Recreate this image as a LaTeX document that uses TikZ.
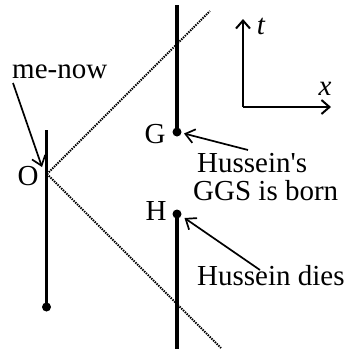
\documentclass[tikz,border=0pt]{standalone}
\usepackage{fontspec}
\setmainfont{Liberation Serif}
\usetikzlibrary{arrows.meta}
\begin{document}
\begin{tikzpicture}[x=1pt,y=-1pt,
  wline/.style={line width=3.6pt},
  lcone/.style={line width=2.1pt, dash pattern=on 1.4pt off 1.1pt},
  dotev/.style={circle, fill=black, inner sep=0pt, minimum size=9pt},
  lbl/.style={inner sep=0pt, font=\fontsize{29}{28}\selectfont},
  ann/.style={line width=1.7pt, -{Straight Barb[length=9pt,width=14pt,line width=1.7pt]}},
  axis/.style={line width=2pt, -{Straight Barb[length=8pt,width=14pt,line width=2pt]}}]
\useasboundingbox (0,0) rectangle (347,349);
% events
\coordinate (O) at (47,174);
\coordinate (meT) at (46.5,130);
\node[dotev] (meB) at (46.5,307) {};
\coordinate (gT) at (177,5);
\node[dotev] (G) at (177,132) {};
\node[dotev] (H) at (177,214) {};
\coordinate (hB) at (177,349);
\coordinate (cU) at (210,11);
\coordinate (cD) at (221,348);
% world lines
\draw[wline] (meT) -- (meB.center);
\draw[wline] (gT) -- (G.center);
\draw[wline] (H.center) -- (hB);
% light cone
\draw[lcone] (O) -- (cU);
\draw[lcone] (O) -- (cD);
% axes
\coordinate (ax0) at (243,107);
\coordinate (axt) at (243,19);
\coordinate (axx) at (331,107);
\draw[axis] (ax0) -- (axt);
\draw[axis] (ax0) -- (axx);
\node[lbl, anchor=base] (tl) at (261,34) {\itshape t};
\node[lbl, anchor=base] (xl) at (325,95) {\itshape x};
% labels
\node[lbl, anchor=base west] (menow) at (12,78) {me-now};
\node[lbl, anchor=base] (Ol) at (28,185) {O};
\node[lbl, anchor=base] (Gl) at (155,143) {G};
\node[lbl, anchor=base] (Hl) at (156,220) {H};
\node[lbl, anchor=base west] (hus1) at (197,172) {Hussein\textquotesingle s};
\node[lbl, anchor=base west] (hus2) at (193,200) {GGS is born};
\node[lbl, anchor=base west] (dies) at (197,285) {Hussein dies};
% annotation arrows
\coordinate (a1) at (13,83);
\coordinate (a1e) at (42,167);
\coordinate (a2) at (248,150);
\coordinate (a3) at (260,270);
\draw[ann] (a1) -- (a1e);
\draw[ann] (a2) -- (184,133.5);
\draw[ann] (a3) -- (184.5,218);
\end{tikzpicture}
\end{document}
